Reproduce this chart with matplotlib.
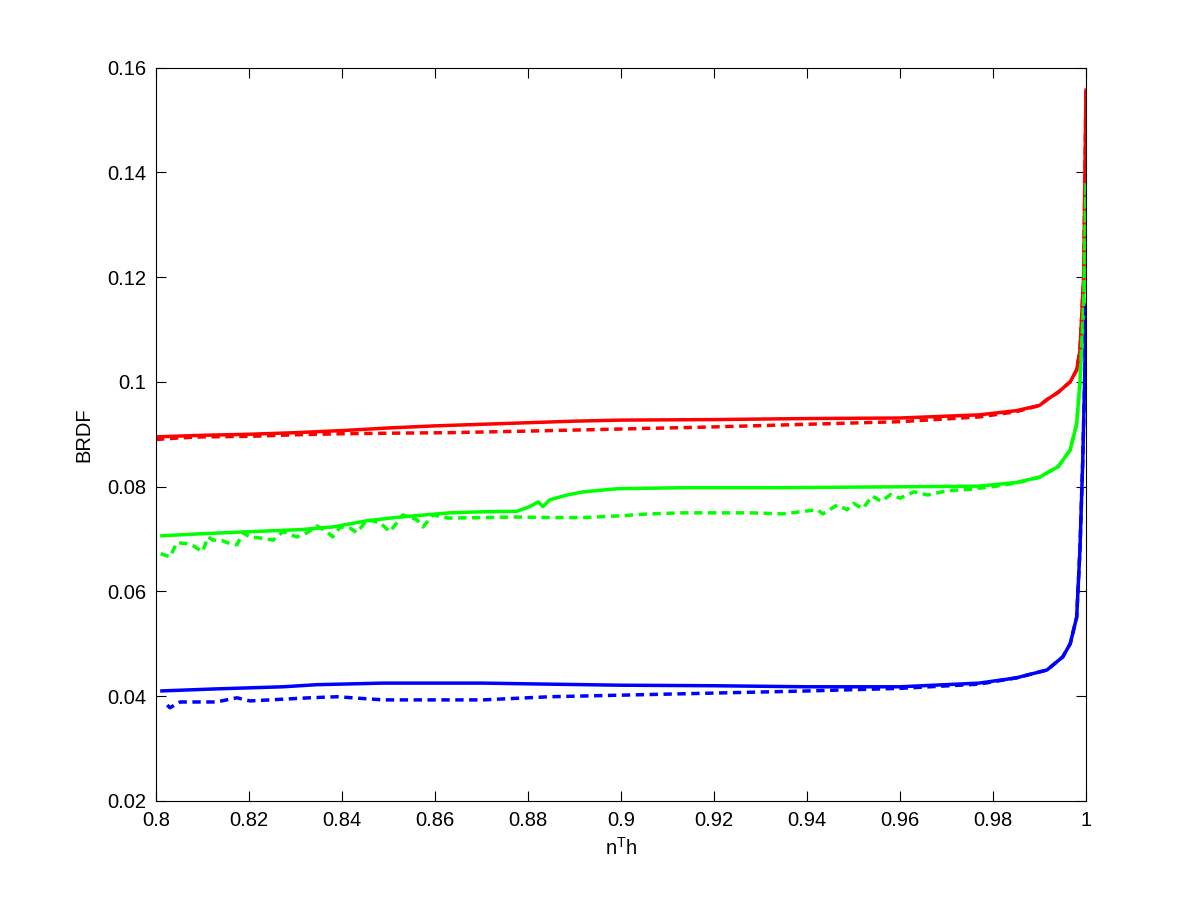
import matplotlib
matplotlib.use("Agg")
import matplotlib.pyplot as plt

# ---- data ----
x_red_solid = [0.800, 0.810, 0.820, 0.830, 0.840, 0.850, 0.860, 0.870, 0.880, 0.890,
               0.900, 0.920, 0.940, 0.960, 0.977, 0.985, 0.990, 0.9916, 0.994, 0.9966,
               0.998, 0.9987, 0.9995, 1.000]
y_red_solid = [0.0895, 0.0898, 0.0900, 0.0903, 0.0907, 0.0912, 0.0916, 0.0919, 0.0922, 0.0925,
               0.0927, 0.0928, 0.0930, 0.0931, 0.0937, 0.0945, 0.0955, 0.0966, 0.0980, 0.1000,
               0.1023, 0.1060, 0.1200, 0.1560]

x_red_dash = [0.800, 0.805, 0.810, 0.820, 0.830, 0.840, 0.850, 0.863, 0.880, 0.900,
              0.920, 0.940, 0.960, 0.977, 0.985, 0.990, 0.9916, 0.994, 0.9966,
              0.998, 0.9987, 0.9995, 1.000]
y_red_dash = [0.0890, 0.0893, 0.0895, 0.0896, 0.0899, 0.0901, 0.0902, 0.0903, 0.0906, 0.0910,
              0.0914, 0.0919, 0.0924, 0.0933, 0.0943, 0.0955, 0.0966, 0.0980, 0.1000,
              0.1023, 0.1060, 0.1200, 0.1560]

x_green_solid = [0.8009, 0.8095, 0.8202, 0.8310, 0.8380, 0.8454, 0.8525, 0.8632, 0.8703, 0.8776,
                 0.8804, 0.8822, 0.8832, 0.8847, 0.8884, 0.8918, 0.8991, 0.9133, 0.9348, 0.9492,
                 0.9650, 0.977, 0.985, 0.990, 0.9916, 0.994, 0.9966, 0.998, 0.9987, 0.9995, 1.000]
y_green_solid = [0.0706, 0.0710, 0.0714, 0.0718, 0.0723, 0.0735, 0.0742, 0.0750, 0.0752, 0.0753,
                 0.0762, 0.0771, 0.0762, 0.0775, 0.0784, 0.0790, 0.0796, 0.0798, 0.0798, 0.0799,
                 0.0800, 0.0801, 0.0808, 0.0818, 0.0826, 0.0838, 0.0870, 0.0920, 0.1000, 0.1150, 0.1380]

x_green_dash = [0.8010, 0.8030, 0.8045, 0.8067, 0.8080, 0.8100, 0.8112, 0.8123, 0.8142, 0.8160,
                0.8174, 0.8187, 0.8202, 0.8224, 0.8252, 0.8273, 0.8303, 0.8325, 0.8346, 0.8368,
                0.8380, 0.8396, 0.8417, 0.8432, 0.8454, 0.8482, 0.8503, 0.8531, 0.8561, 0.8574,
                0.8596, 0.8628, 0.8703, 0.8776, 0.8847, 0.8918, 0.8991, 0.9062, 0.9133, 0.9206,
                0.9277, 0.9348, 0.9385, 0.9422, 0.9434, 0.9465, 0.9486, 0.9500, 0.9520, 0.9540,
                0.9560, 0.9580, 0.9600, 0.9630, 0.9660, 0.9700, 0.9750, 0.9800, 0.9850, 0.9900,
                0.9916, 0.9940, 0.9966, 0.9980, 0.9987, 0.9995, 1.0000]
y_green_dash = [0.0672, 0.0666, 0.0693, 0.0691, 0.0687, 0.0676, 0.0704, 0.0698, 0.0697, 0.0691,
                0.0689, 0.0712, 0.0704, 0.0702, 0.0698, 0.0714, 0.0704, 0.0712, 0.0725, 0.0714,
                0.0704, 0.0723, 0.0721, 0.0712, 0.0737, 0.0731, 0.0714, 0.0746, 0.0737, 0.0723,
                0.0746, 0.0740, 0.0741, 0.0742, 0.0741, 0.0741, 0.0744, 0.0748, 0.0750, 0.0750,
                0.0750, 0.0748, 0.0752, 0.0756, 0.0748, 0.0765, 0.0756, 0.0768, 0.0758, 0.0782,
                0.0772, 0.0785, 0.0778, 0.0790, 0.0784, 0.0792, 0.0795, 0.0800, 0.0807, 0.0818,
                0.0826, 0.0838, 0.0870, 0.0920, 0.1000, 0.1150, 0.1380]

x_blue_solid = [0.8009, 0.8130, 0.8273, 0.8346, 0.8488, 0.8703, 0.8847, 0.9000, 0.9200, 0.9400,
                0.9600, 0.9770, 0.9850, 0.9916, 0.9950, 0.9966, 0.9980, 0.9987, 0.9993, 0.9997, 1.0000]
y_blue_solid = [0.0410, 0.0414, 0.0418, 0.0422, 0.0425, 0.0425, 0.0423, 0.0421, 0.0420, 0.0418,
                0.0418, 0.0425, 0.0435, 0.0450, 0.0475, 0.0500, 0.0551, 0.0680, 0.0850, 0.1000, 0.1150]

x_blue_dash = [0.8024, 0.8030, 0.8052, 0.8130, 0.8174, 0.8202, 0.8331, 0.8389, 0.8488, 0.8703,
               0.8847, 0.9000, 0.9200, 0.9400, 0.9600, 0.9770, 0.9850, 0.9916, 0.9950, 0.9966,
               0.9980, 0.9987, 0.9993, 0.9997, 1.0000]
y_blue_dash = [0.0383, 0.0378, 0.0389, 0.0389, 0.0397, 0.0391, 0.0397, 0.0399, 0.0393, 0.0393,
               0.0399, 0.0402, 0.0406, 0.0410, 0.0415, 0.0423, 0.0435, 0.0450, 0.0475, 0.0500,
               0.0551, 0.0680, 0.0850, 0.1000, 0.1150]

x_ticks = [0.8, 0.82, 0.84, 0.86, 0.88, 0.9, 0.92, 0.94, 0.96, 0.98, 1.0]
x_tick_labels = ["0.8", "0.82", "0.84", "0.86", "0.88", "0.9", "0.92", "0.94", "0.96", "0.98", "1"]
y_ticks = [0.02, 0.04, 0.06, 0.08, 0.1, 0.12, 0.14, 0.16]
y_tick_labels = ["0.02", "0.04", "0.06", "0.08", "0.1", "0.12", "0.14", "0.16"]

# ---- figure ----
plt.rcParams['font.family'] = ['Liberation Sans', 'DejaVu Sans']
fig = plt.figure(figsize=(12, 9), dpi=100)
ax = fig.add_axes([0.13, 0.11, 0.775, 0.815])

lw = 2.5
dash = (0, (2.4, 1.6))
ax.plot(x_red_solid, y_red_solid, color=(1, 0, 0), lw=lw, solid_capstyle='butt')
ax.plot(x_green_solid, y_green_solid, color=(0, 1, 0), lw=lw, solid_capstyle='butt')
ax.plot(x_blue_solid, y_blue_solid, color=(0, 0, 1), lw=lw, solid_capstyle='butt')
ax.plot(x_red_dash, y_red_dash, color=(1, 0, 0), lw=lw, linestyle=dash)
ax.plot(x_green_dash, y_green_dash, color=(0, 1, 0), lw=lw, linestyle=dash)
ax.plot(x_blue_dash, y_blue_dash, color=(0, 0, 1), lw=lw, linestyle=dash)

ax.set_xlim(0.8, 1.0)
ax.set_ylim(0.02, 0.16)
ax.set_xticks(x_ticks)
ax.set_xticklabels(x_tick_labels)
ax.set_yticks(y_ticks)
ax.set_yticklabels(y_tick_labels)
ax.tick_params(direction='in', length=7, width=0.8, labelsize=14.5,
               top=True, right=True, pad=7)
for s in ax.spines.values():
    s.set_linewidth(0.8)

ax.set_xlabel('n$^{\\mathregular{T}}$h', fontsize=14.5, labelpad=5)
ax.set_ylabel('BRDF', fontsize=14.5, labelpad=10)

fig.savefig('out.png', dpi=100, facecolor='white')
